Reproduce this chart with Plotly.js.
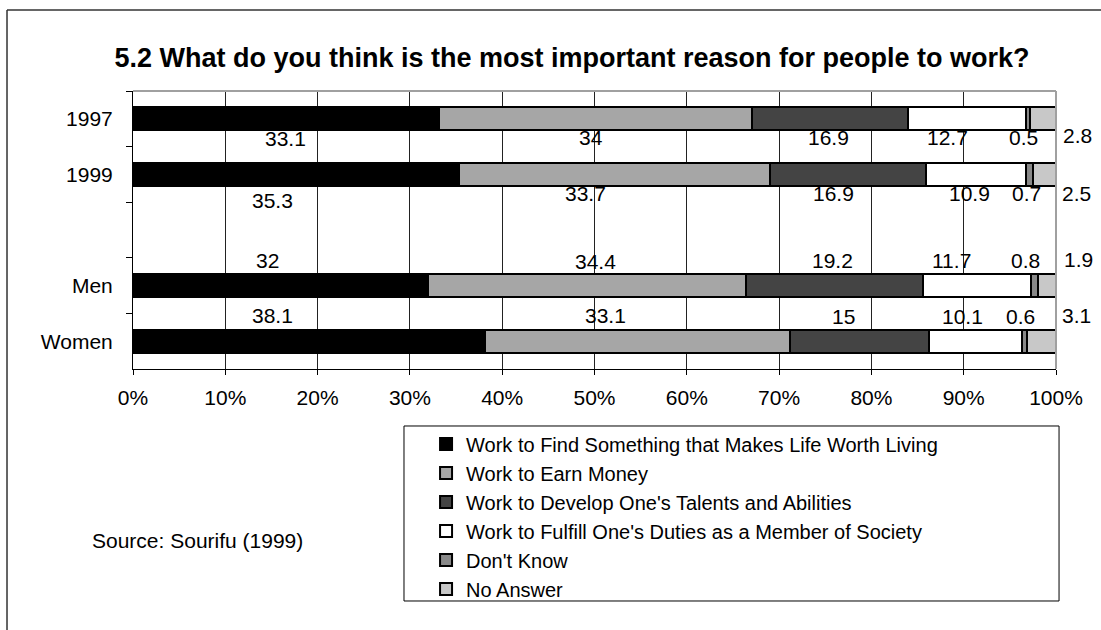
<!DOCTYPE html>
<html>
<head>
<meta charset="utf-8">
<script src="https://cdn.plot.ly/plotly-3.0.1.min.js"></script>
<style>
  html, body { margin: 0; padding: 0; background: #fff; }
  #chart { width: 1101px; height: 630px; }
</style>
</head>
<body>
<div id="chart"></div>
<script>
// ---- data ----
const categories = ['1997', '1999', ' ', 'Men', 'Women'];
const seriesNames = [
  "Work to Find Something that Makes Life Worth Living",
  "Work to Earn Money",
  "Work to Develop One's Talents and Abilities",
  "Work to Fulfill One's Duties as a Member of Society",
  "Don't Know",
  "No Answer"
];
const findMeaning    = [33.1, 35.3, null, 32,   38.1];
const earnMoney      = [34,   33.7, null, 34.4, 33.1];
const developTalents = [16.9, 16.9, null, 19.2, 15];
const fulfillDuties  = [12.7, 10.9, null, 11.7, 10.1];
const dontKnow       = [0.5,  0.7,  null, 0.8,  0.6];
const noAnswer       = [2.8,  2.5,  null, 1.9,  3.1];
const xTickValues = [0, 10, 20, 30, 40, 50, 60, 70, 80, 90, 100];
const xTickLabels = ['0%', '10%', '20%', '30%', '40%', '50%', '60%', '70%', '80%', '90%', '100%'];
const sourceText = "Source: Sourifu (1999)";
const titleText = "5.2 What do you think is the most important reason for people to work?";

// ---- styles ----
const seriesValues = [findMeaning, earnMoney, developTalents, fulfillDuties, dontKnow, noAnswer];
const seriesColors = ['#000000', '#a6a6a6', '#444444', '#ffffff', '#888888', '#c8c8c8'];
// label pixel offsets (row x series), mimicking the original label placement
const labelDx = {
  '1997':  [0, -4, -2, -19, -4, 34],
  '1999':  [-23, -29, -14, -7, -3, 32],
  'Men':   [-13, 8, -2, -26, -9, 31],
  'Women': [-36, -32, -16, -13, -4, 35]
};
const labelDy = {
  '1997':  [-20, -19, -19, -19, -19, -17],
  '1999':  [-26, -19, -19, -19, -19, -19],
  'Men':   [25, 24, 25, 25, 25, 26],
  'Women': [26, 26, 25, 25, 25, 26]
};
const FONT = 'Liberation Sans, Arial, sans-serif';

const traces = seriesValues.map((vals, i) => ({
  type: 'bar',
  orientation: 'h',
  name: seriesNames[i],
  y: categories,
  x: vals,
  marker: { color: seriesColors[i], line: { color: '#000000', width: 2 } },
  hoverinfo: 'x+name'
}));

// data labels computed from the data (segment centres); y given as category index
const annotations = [];
categories.forEach((cat, r) => {
  if (!labelDx[cat]) return;
  let cum = 0;
  seriesValues.forEach((vals, s) => {
    const v = vals[r];
    if (v === null) return;
    annotations.push({
      x: cum + v / 2, y: r, xref: 'x', yref: 'y',
      text: String(v), showarrow: false,
      xshift: labelDx[cat][s], yshift: labelDy[cat][s],
      font: { family: FONT, size: 21, color: '#000' }
    });
    cum += v;
  });
});
annotations.push({
  xref: 'paper', yref: 'paper', x: 0.0704, y: -0.6187,
  text: sourceText, showarrow: false, xanchor: 'center', yanchor: 'middle',
  font: { family: FONT, size: 21, color: '#000' }
});

const layout = {
  width: 1101, height: 630,
  margin: { l: 133, r: 45, t: 91, b: 261, autoexpand: false },
  paper_bgcolor: '#ffffff', plot_bgcolor: '#ffffff',
  barmode: 'stack',
  bargap: 0.58,
  showlegend: true,
  title: {
    text: '<b>' + titleText + '</b>',
    x: 0.5195, xanchor: 'center', xref: 'container',
    y: 0.908, yanchor: 'middle', yref: 'container',
    font: { family: FONT, size: 27, color: '#000' }
  },
  xaxis: {
    range: [0, 100], autorange: false,
    tickmode: 'array', tickvals: xTickValues, ticktext: xTickLabels,
    showgrid: true, gridcolor: '#222222', gridwidth: 1,
    zeroline: false, showline: true, linecolor: '#000', linewidth: 1,
    ticks: 'outside', ticklen: 5, tickcolor: '#000',
    ticklabelstandoff: 5,
    tickfont: { family: FONT, size: 21, color: '#000' },
    fixedrange: true
  },
  yaxis: {
    type: 'category', categoryorder: 'array', categoryarray: categories,
    range: [4.5, -0.5], autorange: false,
    showgrid: false, zeroline: false,
    showline: true, linecolor: '#000', linewidth: 1,
    ticks: 'outside', ticklen: 6, tickcolor: '#000', tickson: 'boundaries',
    ticklabelstandoff: 15,
    tickfont: { family: FONT, size: 21, color: '#000' },
    fixedrange: true
  },
  legend: {
    x: 0.3175, xanchor: 'left', y: -0.2, yanchor: 'top',
    traceorder: 'normal',
    bgcolor: 'rgba(0,0,0,0)', borderwidth: 0,
    font: { family: FONT, size: 20, color: '#000' }
  },
  annotations: annotations,
  shapes: [
    // plot area top & right border (grey)
    { type: 'line', xref: 'paper', yref: 'paper', x0: 0, x1: 1, y0: 1, y1: 1,
      line: { color: '#a0a0a0', width: 2 }, layer: 'above' },
    { type: 'line', xref: 'paper', yref: 'paper', x0: 1, x1: 1, y0: 0, y1: 1,
      line: { color: '#a0a0a0', width: 2 }, layer: 'above' },
    // legend box
    { type: 'rect', xref: 'paper', yref: 'paper', x0: 0.2936, x1: 1.0033, y0: -0.8345, y1: -0.205,
      line: { color: '#000', width: 1 }, fillcolor: 'rgba(0,0,0,0)', layer: 'above' },
    // outer chart border (left & top)
    { type: 'line', xref: 'paper', yref: 'paper', x0: -0.1365, x1: -0.1365, y0: 1.2914, y1: -0.95,
      line: { color: '#333', width: 1.5 }, layer: 'above' },
    { type: 'line', xref: 'paper', yref: 'paper', x0: -0.1365, x1: 1.06, y0: 1.2914, y1: 1.2914,
      line: { color: '#333', width: 1.5 }, layer: 'above' }
  ]
};

Plotly.newPlot('chart', traces, layout, { staticPlot: true, displayModeBar: false });
</script>
</body>
</html>
